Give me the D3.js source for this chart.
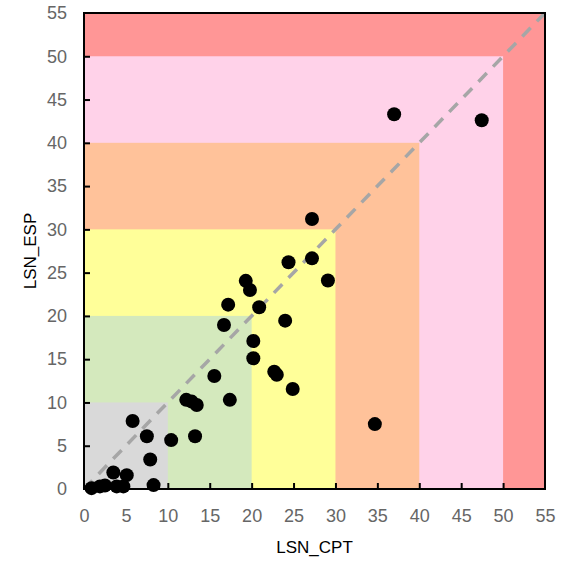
<!DOCTYPE html>
<html>
<head>
<meta charset="utf-8">
<script src="https://cdn.jsdelivr.net/npm/d3@7"></script>
<style>
html,body{margin:0;padding:0;background:#fff;}
svg{display:block;font-family:"Liberation Sans",Arial,sans-serif;}
</style>
</head>
<body>
<svg id="chart" width="567" height="561"></svg>
<script>
// Data
const cptValues = [0.9, 1.9, 2.5, 3.9, 4.7, 3.5, 5.1, 8.3, 7.9, 5.8, 7.5, 10.4, 13.25, 12.2, 12.85, 13.45,
  17.4, 15.55, 22.7, 23.0, 24.9, 20.2, 20.2, 16.7, 24.0, 17.2, 20.9, 19.3, 19.8, 24.4, 27.2, 29.1, 27.2,
  34.7, 37.0, 47.45];
const espValues = [0.1, 0.3, 0.4, 0.3, 0.3, 1.9, 1.6, 0.45, 3.4, 7.85, 6.1, 5.65, 6.1, 10.3, 10.1, 9.7,
  10.3, 13.05, 13.55, 13.2, 11.55, 17.1, 15.1, 18.95, 19.45, 21.3, 21.0, 24.05, 23.0, 26.2, 26.65, 24.1, 31.2,
  7.5, 43.3, 42.6];
const zoneLimits = [55, 50, 40, 30, 20, 10];
const zoneColors = ["#ff9696", "#ffd2e9", "#ffc29a", "#ffff99", "#d4e9bd", "#d9d9d9"];
const tickValues = [0, 5, 10, 15, 20, 25, 30, 35, 40, 45, 50, 55];
const xTitle = "LSN_CPT";
const yTitle = "LSN_ESP";

const svg = d3.select("#chart");
const mLeft = 84, mRight = 545, mTop = 13, mBottom = 489;
const x = d3.scaleLinear().domain([0, 55]).range([mLeft, mRight]);
const y = d3.scaleLinear().domain([0, 55]).range([mBottom, mTop]);

// zones
svg.append("g").selectAll("rect").data(zoneLimits).join("rect")
  .attr("x", x(0)).attr("y", d => y(d))
  .attr("width", d => x(d) - x(0)).attr("height", d => y(0) - y(d))
  .attr("fill", (d, i) => zoneColors[i]);

// diagonal
svg.append("line")
  .attr("x1", x(0)).attr("y1", y(0)).attr("x2", x(55)).attr("y2", y(55))
  .attr("stroke", "#a6a6a6").attr("stroke-width", 3.5)
  .attr("stroke-dasharray", "12,9").attr("stroke-linecap", "butt");

// axes
const xAxis = d3.axisBottom(x).tickValues(tickValues).tickSizeInner(-6).tickSizeOuter(0).tickPadding(20);
const yAxis = d3.axisLeft(y).tickValues(tickValues).tickSizeInner(-6).tickSizeOuter(0).tickPadding(17);
const gx = svg.append("g").attr("transform", `translate(0,${mBottom})`).call(xAxis);
const gy = svg.append("g").attr("transform", `translate(${mLeft},0)`).call(yAxis);
[gx, gy].forEach(g => {
  g.select(".domain").remove();
  g.selectAll(".tick line").attr("stroke", "#000").attr("stroke-width", 2);
  g.selectAll(".tick text").attr("fill", "#666").style("font-size", "18px")
    .style("font-family", "'Liberation Sans',Arial,sans-serif");
});
gx.selectAll(".tick line").filter(d => d === 0 || d === 55).remove();
gy.selectAll(".tick line").filter(d => d === 0 || d === 55).remove();

// frame
svg.append("rect").attr("x", mLeft).attr("y", mTop).attr("width", mRight - mLeft).attr("height", mBottom - mTop)
  .attr("fill", "none").attr("stroke", "#000").attr("stroke-width", 2);

// points
svg.append("g").selectAll("circle").data(cptValues).join("circle")
  .attr("cx", d => x(d)).attr("cy", (d, i) => y(espValues[i]))
  .attr("r", 7).attr("fill", "#000");

// titles
svg.append("text").attr("x", (mLeft + mRight) / 2).attr("y", 553).attr("text-anchor", "middle")
  .style("font-size", "17px").attr("fill", "#000").text(xTitle);
svg.append("text").attr("transform", `translate(36,${(mTop + mBottom) / 2}) rotate(-90)`)
  .attr("text-anchor", "middle").style("font-size", "17px").attr("fill", "#000").text(yTitle);
</script>
</body>
</html>
